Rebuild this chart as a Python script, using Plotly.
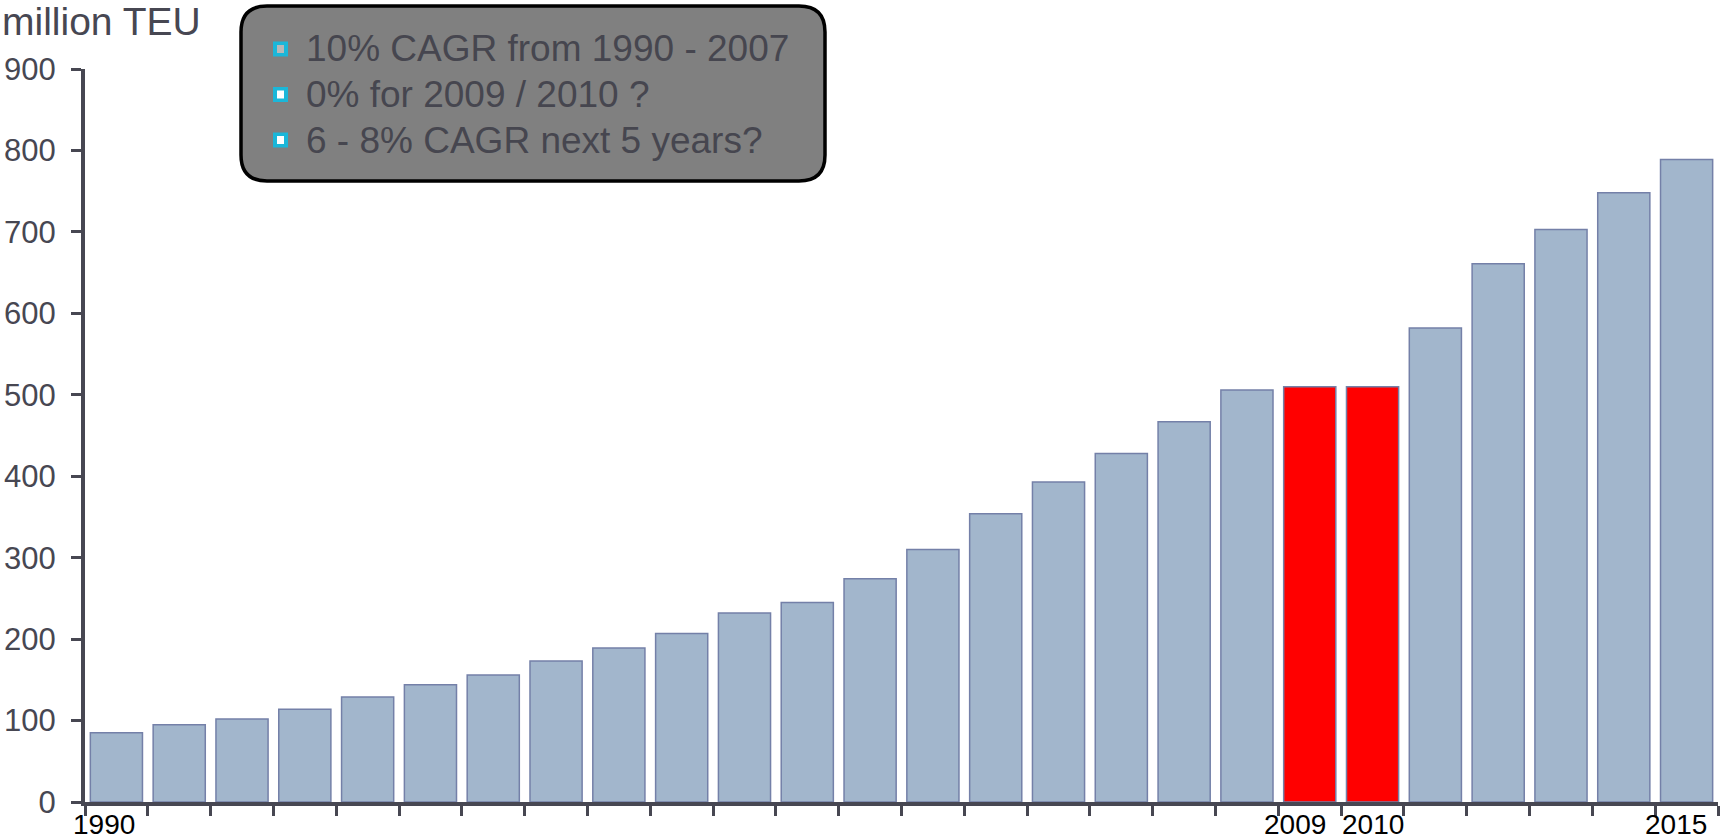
import plotly.graph_objects as go

years = [str(y) for y in range(1990, 2016)]
teu = [85, 95, 102, 114, 129, 144, 156, 173, 189, 207, 232, 245, 274, 310,
       354, 393, 428, 467, 506, 510, 510, 582, 661, 703, 748, 789]
highlight_years = ["2009", "2010"]
shown_labels = ["1990", "2009", "2010", "2015"]
y_ticks = [0, 100, 200, 300, 400, 500, 600, 700, 800, 900]
notes = ["10% CAGR from 1990 - 2007", "0% for 2009 / 2010 ?", "6 - 8% CAGR next 5 years?"]
unit_label = "million TEU"

W, H = 1725, 840
L, R, T, B = 85, 7, 69, 38
PW, PH = W - L - R, H - T - B

def px(x):
    return (x - L) / PW

def py(y):
    return (H - B - y) / PH

BLUE = "#a2b6cc"
EDGE = "#7480a8"
RED = "#ff0000"
AX = "#474752"
FONT = "Liberation Sans"

colors = [RED if y in highlight_years else BLUE for y in years]

fig = go.Figure(go.Bar(
    x=years, y=teu,
    marker=dict(color=colors, line=dict(color=EDGE, width=1.5)),
    hoverinfo="x+y",
))

fig.update_layout(
    width=W, height=H,
    margin=dict(l=L, r=R, t=T, b=B, pad=0),
    plot_bgcolor="white", paper_bgcolor="white",
    bargap=0.17,
    showlegend=False,
    font=dict(family=FONT, color=AX),
    xaxis=dict(
        type="category", tickson="boundaries",
        categoryorder="array", categoryarray=years,
        range=[-0.5, len(years) - 0.5],
        tickvals=years, ticktext=["" for _ in years],
        ticks="outside", ticklen=10, tickwidth=3, tickcolor=AX,
        showline=True, linecolor=AX, linewidth=4,
        showgrid=False, zeroline=False, automargin=False,
    ),
    yaxis=dict(
        range=[0, 900], tickvals=y_ticks,
        ticks="outside", ticklen=10, tickwidth=3, tickcolor=AX,
        showline=True, linecolor=AX, linewidth=4,
        showgrid=False, zeroline=False, automargin=False,
        ticklabelstandoff=9,
        tickfont=dict(family=FONT, size=31, color=AX),
    ),
)

# year labels under the axis (slightly offset like the original)
label_shift = {"1990": -12, "2009": -15, "2010": 0, "2015": -11}
for yr in shown_labels:
    fig.add_annotation(
        x=years.index(yr), y=0, xref="x", yref="y", text=yr, showarrow=False,
        xanchor="center", yanchor="top", yshift=-5, xshift=label_shift[yr],
        font=dict(family=FONT, size=28, color="black"),
    )

# unit label
fig.add_annotation(
    x=px(0), y=py(-2), xref="paper", yref="paper",
    text=unit_label, showarrow=False, xanchor="left", yanchor="top",
    font=dict(family=FONT, size=39, color=AX),
)

# rounded box
x0, x1, y0, y1, r = 241, 825, 6, 181, 26
def P(x, y):
    return f"{px(x):.5f},{py(y):.5f}"
path = (f"M {P(x0 + r, y0)} L {P(x1 - r, y0)} Q {P(x1, y0)} {P(x1, y0 + r)} "
        f"L {P(x1, y1 - r)} Q {P(x1, y1)} {P(x1 - r, y1)} "
        f"L {P(x0 + r, y1)} Q {P(x0, y1)} {P(x0, y1 - r)} "
        f"L {P(x0, y0 + r)} Q {P(x0, y0)} {P(x0 + r, y0)} Z")
fig.add_shape(type="path", path=path, xref="paper", yref="paper",
              fillcolor="#808080", line=dict(color="black", width=3.5), layer="above")

line_y = [49, 94.5, 140]
for i, (txt, yc) in enumerate(zip(notes, line_y)):
    fig.add_shape(type="rect", xref="paper", yref="paper",
                  x0=px(273), x1=px(288), y0=py(yc + 7.5), y1=py(yc - 7.5),
                  fillcolor="#1bb7d9", line=dict(width=0), layer="above")
    fig.add_shape(type="rect", xref="paper", yref="paper",
                  x0=px(277), x1=px(284), y0=py(yc + 4), y1=py(yc - 4),
                  fillcolor="#b8b8b8" if i == 0 else "white", line=dict(width=0), layer="above")
    fig.add_annotation(
        x=px(304), y=py(yc), xref="paper", yref="paper",
        text=txt, showarrow=False, xanchor="left", yanchor="middle",
        font=dict(family=FONT, size=37, color="#46464f"),
    )

fig.write_html("out.html")
